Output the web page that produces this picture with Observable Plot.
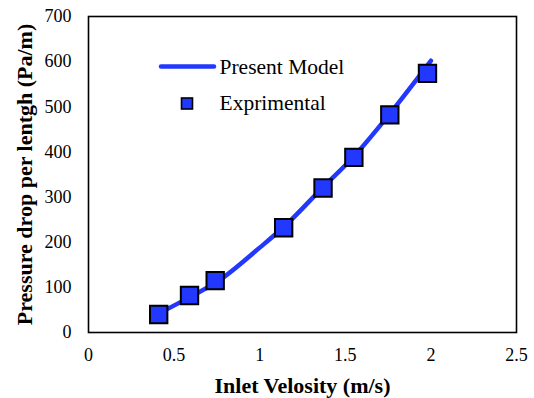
<!DOCTYPE html>
<html>
<head>
<meta charset="utf-8">
<script src="https://cdn.jsdelivr.net/npm/d3@7"></script>
<script src="https://cdn.jsdelivr.net/npm/@observablehq/plot@0.6"></script>
<style>
  html, body { margin: 0; padding: 0; background: #fff; }
  #chart { position: relative; width: 534px; height: 398px; }
  #chart svg, #chart svg text, #chart svg g { font-family: "Liberation Serif", "Times New Roman", serif !important; }
</style>
</head>
<body>
<div id="chart"></div>
<script>
// Experimental data (squares)
const expX = [0.41, 0.59, 0.74, 1.14, 1.37, 1.55, 1.76, 1.98];
const expY = [40, 82, 115, 232, 320, 388, 482, 574];

// Present model (line)
const modelX = [0.41, 0.6, 0.75, 1.0, 1.15, 1.37, 1.55, 1.75, 2.0];
const modelY = [42, 80, 112, 188, 237, 322, 390, 480, 602];

// Axes
const xTicks = [0, 0.5, 1, 1.5, 2, 2.5];
const xTickLabels = ["0", "0.5", "1", "1.5", "2", "2.5"];
const yTicks = [0, 100, 200, 300, 400, 500, 600, 700];
const xTitle = "Inlet Velosity (m/s)";
const yTitle = "Pressure drop per lentgh (Pa/m)";
const legendLabels = ["Present Model", "Exprimental"];

const blue = "#2238ff";
const serif = "'Liberation Serif', 'Times New Roman', serif";

const expData = expX.map((x, i) => ({x, y: expY[i]}));
const modelData = modelX.map((x, i) => ({x, y: modelY[i]}));

const chart = Plot.plot({
  width: 534,
  height: 398,
  marginLeft: 88,
  marginRight: 18,
  marginTop: 16,
  marginBottom: 66,
  style: {fontFamily: serif, fontSize: "18px", color: "#000", background: "#fff"},
  x: {domain: [0, 2.5]},
  y: {domain: [0, 700]},
  marks: [
    Plot.axisX({ticks: xTicks, tickSize: 0, tickPadding: 16, fontSize: 18, tickFormat: (d) => xTickLabels[xTicks.indexOf(d)], label: null}),
    Plot.axisY({ticks: yTicks, tickSize: 0, tickPadding: 17, fontSize: 18, label: null}),
    Plot.line(modelData, {x: "x", y: "y", stroke: blue, strokeWidth: 4.5, curve: "monotone-x"}),
    Plot.dot(expData, {x: "x", y: "y", symbol: "square", r: 9.8, fill: blue, stroke: "#000", strokeWidth: 2}),
    Plot.frame({stroke: "#000", strokeWidth: 1.6}),
    Plot.text([xTitle], {frameAnchor: "bottom", dy: 53, fontSize: 22, fontWeight: "bold", textAnchor: "middle", lineAnchor: "middle"}),
    Plot.text([yTitle], {frameAnchor: "left", dx: -64, rotate: -90, fontSize: 22, fontWeight: "bold", textAnchor: "middle", lineAnchor: "middle"}),
    Plot.text([legendLabels[0]], {frameAnchor: "top-left", dx: 131, dy: 51, textAnchor: "start", lineAnchor: "middle", fontSize: 21.5}),
    Plot.text([legendLabels[1]], {frameAnchor: "top-left", dx: 131, dy: 87, textAnchor: "start", lineAnchor: "middle", fontSize: 21.5})
  ]
});

document.getElementById("chart").appendChild(chart);

// Legend symbols
const svg = d3.select(chart);
const lg = svg.append("g");
lg.append("line")
  .attr("x1", 161).attr("x2", 214).attr("y1", 66.5).attr("y2", 66.5)
  .attr("stroke", blue).attr("stroke-width", 4.5).attr("stroke-linecap", "round");
lg.append("rect")
  .attr("x", 181.5).attr("y", 98).attr("width", 11).attr("height", 11)
  .attr("fill", blue).attr("stroke", "#000").attr("stroke-width", 1.6);
</script>
</body>
</html>
